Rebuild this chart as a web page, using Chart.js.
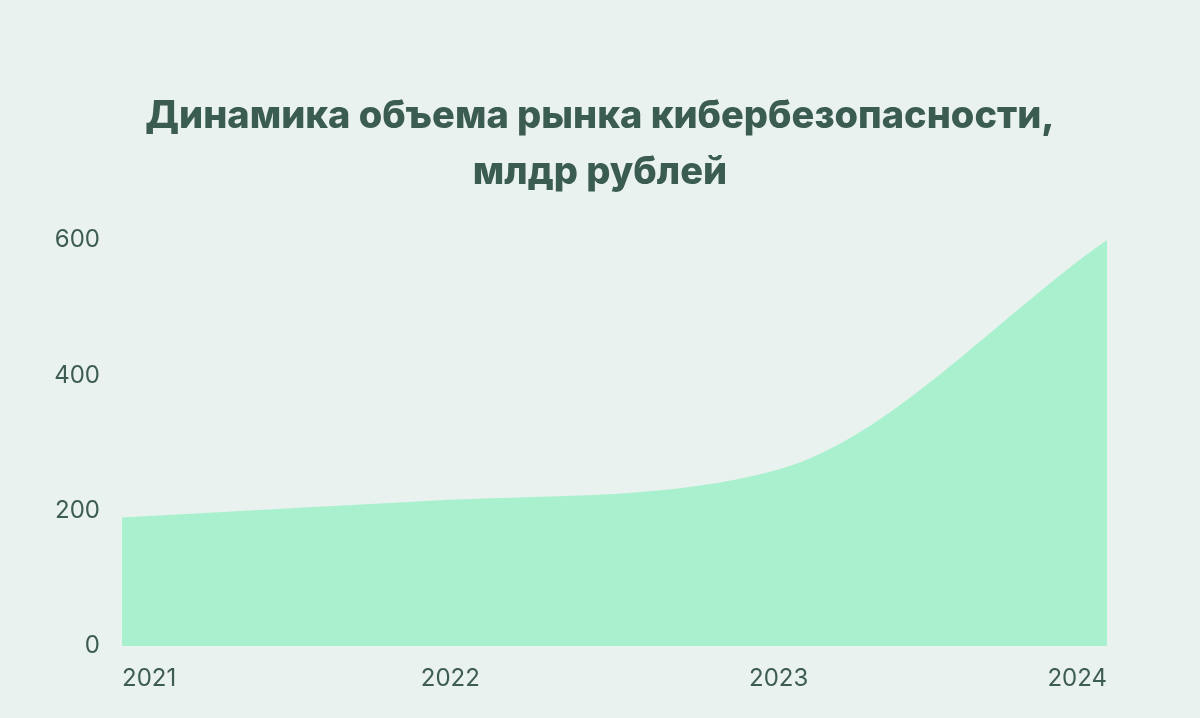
<!DOCTYPE html>
<html>
<head>
<meta charset="utf-8">
<style>
  html, body { margin: 0; padding: 0; background: #e9f2ee; }
  #wrap { width: 1200px; height: 718px; }
</style>
<script src="https://cdn.jsdelivr.net/npm/chart.js@4/dist/chart.umd.min.js"></script>
</head>
<body>
<div id="wrap"><canvas id="c" width="1200" height="718"></canvas></div>
<script>
const titleLines = ['Динамика объема рынка кибербезопасности,', 'млдр рублей'];
const years = ['2021', '2022', '2023', '2024'];
const marketValues = [190, 216, 261, 600];
const yTicks = [0, 200, 400, 600];

const ctx = document.getElementById('c').getContext('2d');
new Chart(ctx, {
  type: 'line',
  data: {
    labels: years,
    datasets: [{
      data: marketValues,
      fill: 'origin',
      backgroundColor: '#a9f0cf',
      borderWidth: 0,
      borderColor: 'rgba(0,0,0,0)',
      pointRadius: 0,
      cubicInterpolationMode: 'monotone'
    }]
  },
  options: {
    responsive: false,
    animation: false,
    layout: { padding: 0 },
    plugins: {
      legend: { display: false },
      tooltip: { enabled: false },
      title: {
        display: true,
        text: titleLines,
        color: '#3b5c50',
        font: { family: 'Inter', size: 38, weight: '800', lineHeight: 56 / 38 },
        padding: { top: 89, bottom: 39 }
      }
    },
    scales: {
      x: {
        offset: false,
        grid: { display: false, drawTicks: false },
        border: { display: false },
        ticks: {
          align: 'inner',
          color: '#3d5c52',
          font: { family: 'Inter', size: 24, weight: '400' },
          padding: 18,
          maxRotation: 0
        },
        afterFit: s => { s.height = 72; }
      },
      y: {
        min: 0,
        max: 600,
        afterBuildTicks: s => { s.ticks = yTicks.map(v => ({ value: v })); },
        grid: { display: false, drawTicks: false },
        border: { display: false },
        ticks: {
          color: '#3d5c52',
          font: { family: 'Inter', size: 24, weight: '400' },
          padding: 22
        },
        afterFit: s => { s.width = 122; }
      },
      yRight: {
        position: 'right',
        display: true,
        min: 0,
        max: 600,
        grid: { display: false, drawTicks: false },
        border: { display: false },
        ticks: { display: false },
        afterFit: s => { s.width = 93; }
      }
    }
  }
});
</script>
</body>
</html>
